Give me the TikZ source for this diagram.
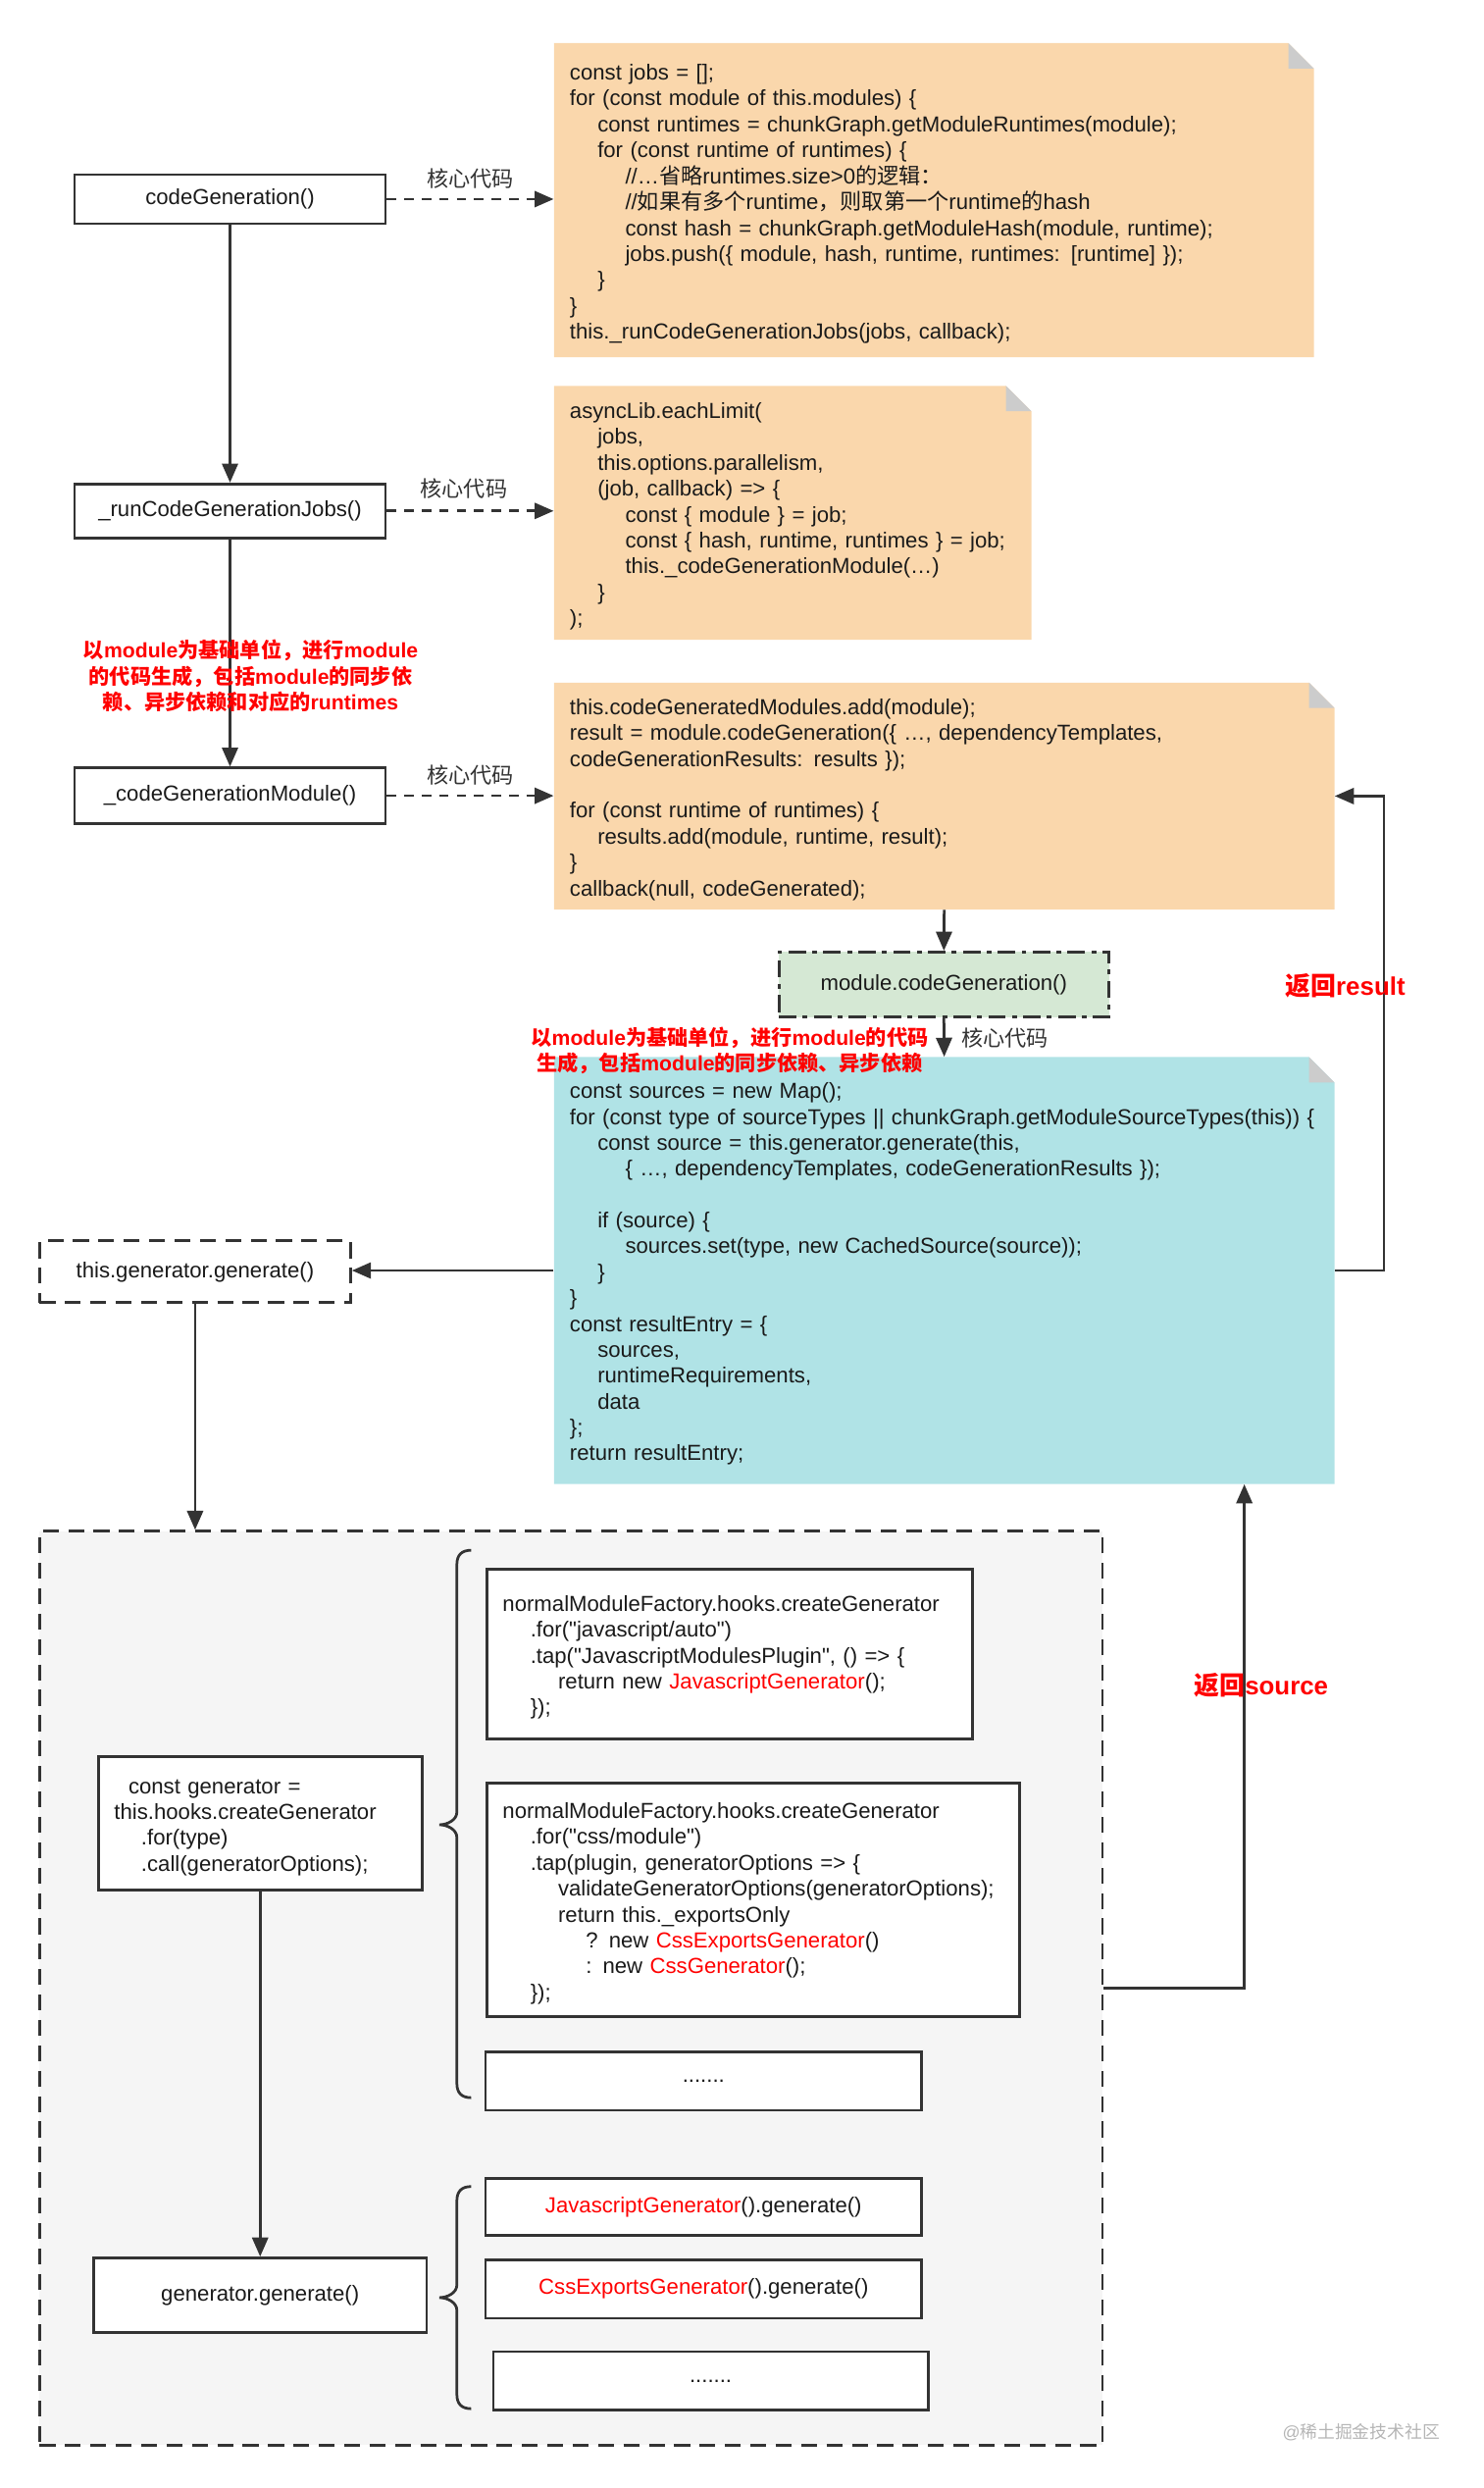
\documentclass[tikz,border=0pt]{standalone}
\usepackage{fontspec}
\newfontfamily\lat{Liberation Sans}
\newfontfamily\cjk{Noto Sans CJK SC}
\usetikzlibrary{arrows.meta,calc}
\definecolor{lc}{HTML}{333333}
\definecolor{tc}{HTML}{1A1A1A}
\definecolor{orf}{HTML}{FAD7AC}
\definecolor{blf}{HTML}{B0E3E6}
\definecolor{grf}{HTML}{D5E8D4}
\definecolor{foldc}{HTML}{CCCCCC}
\definecolor{rgf}{HTML}{F5F5F5}
\definecolor{rd}{HTML}{FF0000}
\definecolor{wm}{HTML}{B5B5B5}
\newcommand\zh[1]{{\cjk #1}}
\newcommand\ia{\hspace*{17.5pt}}
\newcommand\myfs{\fontsize{13.7pt}{16.3pt}\selectfont}
\newcommand\mybase{\lat\myfs}
\newcommand\codelines[1]{\vbox{\kern5pt\hbox{\begin{tabular}{@{}l@{}}#1\end{tabular}}}}
\newcommand\redt[1]{\textcolor{rd}{#1}}
\newcommand\mybrace[4]{\draw[lc, line width=1.7pt] (#1+9,#2) .. controls (#1+3,#2) and (#1,#2+3) .. (#1,#2+9) -- (#1,#4-8) .. controls (#1,#4-3) and (#1-6,#4) .. (#1-11,#4) .. controls (#1-6,#4) and (#1,#4+3) .. (#1,#4+8) -- (#1,#3-9) .. controls (#1,#3-3) and (#1+3,#3) .. (#1+9,#3);}
\tikzset{
  sbox/.style={draw=lc, line width=1.7pt, fill=white, inner sep=0pt, text=tc},
  notebox/.style={rectangle, anchor=north west, inner xsep=10pt, inner ysep=0pt, align=left, text=tc,
    path picture={
      \fill[#1] (path picture bounding box.south west) -- (path picture bounding box.north west)
        -- ([xshift=-16pt]path picture bounding box.north east) -- ([yshift=-16pt]path picture bounding box.north east)
        -- (path picture bounding box.south east) -- cycle;
      \fill[foldc] ([xshift=-16pt]path picture bounding box.north east) -- ([xshift=-16pt,yshift=-16pt]path picture bounding box.north east)
        -- ([yshift=-16pt]path picture bounding box.north east) -- cycle;}},
  arr/.style={draw=lc, line width=1.7pt, -{Triangle[length=12pt,width=10pt]}},
  darr/.style={arr, dash pattern=on 6pt off 5pt},
  lbl/.style={text=lc, inner sep=0pt},
  redlbl/.style={text=rd, font=\lat\fontsize{13.1pt}{16.2pt}\selectfont\bfseries, align=center, inner sep=0pt},
  bigred/.style={text=rd, font=\lat\fontsize{16pt}{19pt}\selectfont\bfseries, inner sep=0pt},
}
\begin{document}
\begin{tikzpicture}[x=1pt, y=-1pt, font=\mybase]
\useasboundingbox (0,0) rectangle (935,1568);

% left column
\node[sbox, minimum width=196pt, minimum height=31pt] (cg) at (145,125.5) {codeGeneration()};
\node[sbox, minimum width=196pt, minimum height=34pt] (rj) at (145,322) {\_runCodeGenerationJobs()};
\node[sbox, minimum width=196pt, minimum height=35pt] (cm) at (145,501.5) {\_codeGenerationModule()};

% notes
\node[notebox=orf, minimum height=198pt, text width=459pt] (o1) at (349,27) {\codelines{%
const jobs = [];\\
for (const module of this.modules) \{\\
\ia const runtimes = chunkGraph.getModuleRuntimes(module);\\
\ia for (const runtime of runtimes) \{\\
\ia\ia //…\zh{省略}runtimes.size>0\zh{的逻辑：}\\
\ia\ia //\zh{如果有多个}runtime\zh{，则取第一个}runtime\zh{的}hash\\
\ia\ia const hash = chunkGraph.getModuleHash(module, runtime);\\
\ia\ia jobs.push(\{ module, hash, runtime, runtimes: [runtime] \});\\
\ia \}\\
\}\\
this.\_runCodeGenerationJobs(jobs, callback);}};

\node[notebox=orf, minimum height=160pt, text width=281pt] (o2) at (349,243) {\codelines{%
asyncLib.eachLimit(\\
\ia jobs,\\
\ia this.options.parallelism,\\
\ia (job, callback) => \{\\
\ia\ia const \{ module \} = job;\\
\ia\ia const \{ hash, runtime, runtimes \} = job;\\
\ia\ia this.\_codeGenerationModule(…)\\
\ia \}\\
);}};

\node[notebox=orf, minimum height=143pt, text width=472pt] (o3) at (349,430) {\codelines{%
this.codeGeneratedModules.add(module);\\
result = module.codeGeneration(\{ …, dependencyTemplates,\\
codeGenerationResults: results \});\\[16.3pt]
for (const runtime of runtimes) \{\\
\ia results.add(module, runtime, result);\\
\}\\
callback(null, codeGenerated);}};

\node[sbox, fill=grf, dash pattern=on 11pt off 4pt on 3pt off 4pt, minimum width=208pt, minimum height=41pt] (mcg) at (595,620.5) {module.codeGeneration()};

\node[notebox=blf, minimum height=269pt, text width=472pt] (bl) at (349,666) {\codelines{%
const sources = new Map();\\
for (const type of sourceTypes || chunkGraph.getModuleSourceTypes(this)) \{\\
\ia const source = this.generator.generate(this,\\
\ia\ia \{ …, dependencyTemplates, codeGenerationResults \});\\[16.3pt]
\ia if (source) \{\\
\ia\ia sources.set(type, new CachedSource(source));\\
\ia \}\\
\}\\
const resultEntry = \{\\
\ia sources,\\
\ia runtimeRequirements,\\
\ia data\\
\};\\
return resultEntry;}};

\node[sbox, dash pattern=on 10pt off 6pt, minimum width=196pt, minimum height=39pt] (tg) at (123,801.5) {this.generator.generate()};

% region
\node[draw=lc, line width=1.7pt, fill=rgf, dash pattern=on 10pt off 6pt, minimum width=670pt, minimum height=576pt, inner sep=0pt] (rg) at (360,1253) {};

\node[sbox, minimum width=204pt, minimum height=84pt, text width=184pt, inner xsep=10pt, align=left] (cgen) at (164,1149) {\codelines{\hspace*{9pt}const generator =\\this.hooks.createGenerator\\\hspace*{17pt}.for(type)\\\hspace*{17pt}.call(generatorOptions);}};
\node[sbox, minimum width=210pt, minimum height=47pt] (gg) at (164,1446.5) {generator.generate()};

\node[sbox, anchor=north west, minimum height=107pt, text width=286pt, inner xsep=10pt, align=left] (js) at (306,988) {\codelines{%
normalModuleFactory.hooks.createGenerator\\
\ia .for("javascript/auto")\\
\ia .tap("JavascriptModulesPlugin", () => \{\\
\ia\ia return new \redt{JavascriptGenerator}();\\
\ia \});}};

\node[sbox, anchor=north west, minimum height=147pt, text width=316pt, inner xsep=10pt, align=left] (css) at (306,1123) {\codelines{%
normalModuleFactory.hooks.createGenerator\\
\ia .for("css/module")\\
\ia .tap(plugin, generatorOptions => \{\\
\ia\ia validateGeneratorOptions(generatorOptions);\\
\ia\ia return this.\_exportsOnly\\
\ia\ia\ia ? new \redt{CssExportsGenerator}()\\
\ia\ia\ia : new \redt{CssGenerator}();\\
\ia \});}};

\node[sbox, minimum width=275pt, minimum height=37pt] (d1) at (443.5,1311.5) {.......};
\node[sbox, minimum width=275pt, minimum height=36pt] (jsg) at (443.5,1391) {\redt{JavascriptGenerator}().generate()};
\node[sbox, minimum width=275pt, minimum height=37pt] (cssg) at (443.5,1442.5) {\redt{CssExportsGenerator}().generate()};
\node[sbox, minimum width=274pt, minimum height=37pt] (d2) at (448,1500.5) {.......};

\mybrace{288}{977}{1322}{1150}
\mybrace{288}{1378}{1518}{1448}

% connectors
\draw[arr] (cg) -- (rj);
\draw[arr] (rj) -- (cm);
\draw[darr] (cg.east) -- (cg.east -| o1.west) node[lbl, midway, yshift=13pt] (l1) {\zh{核心代码}};
\draw[darr] (rj.east) -- (rj.east -| o2.west) node[lbl, midway, yshift=14pt, xshift=-4pt] (l2) {\zh{核心代码}};
\draw[darr] (cm.east) -- (cm.east -| o3.west) node[lbl, midway, yshift=13pt] (l3) {\zh{核心代码}};
\draw[arr] (o3.south) -- (mcg.north);
\draw[arr] (mcg.south) -- (bl.north) node[lbl, midway, right=10pt] (l4) {\zh{核心代码}};
\draw[arr] (bl.west) -- (bl.west -| tg.east);
\draw[arr] (tg.south) -- (tg.south |- rg.north);
\draw[arr] (bl.east) -- ++(31,0) |- (o3.east);
\draw[arr] (rg.east) -| ([xshift=-57pt]bl.south east);
\draw[arr] (cgen) -- (gg);

% red labels
\node[redlbl] (r1) at (158,426) {\zh{以}module\zh{为基础单位，进行}module\\\zh{的代码生成，包括}module\zh{的同步依}\\\zh{赖、异步依赖和对应的}runtimes};
\node[redlbl] (r2) at (460,662) {\zh{以}module\zh{为基础单位，进行}module\zh{的代码}\\\zh{生成，包括}module\zh{的同步依赖、异步依赖}};
\node[bigred] (r3) at (848,621) {\zh{返回}result};
\node[bigred] (r4) at (795,1062) {\zh{返回}source};

\node[text=wm, font=\lat\fontsize{11pt}{13pt}\selectfont, inner sep=0pt] (wmk) at (858,1533) {@\zh{稀土掘金技术社区}};
\end{tikzpicture}
\end{document}
